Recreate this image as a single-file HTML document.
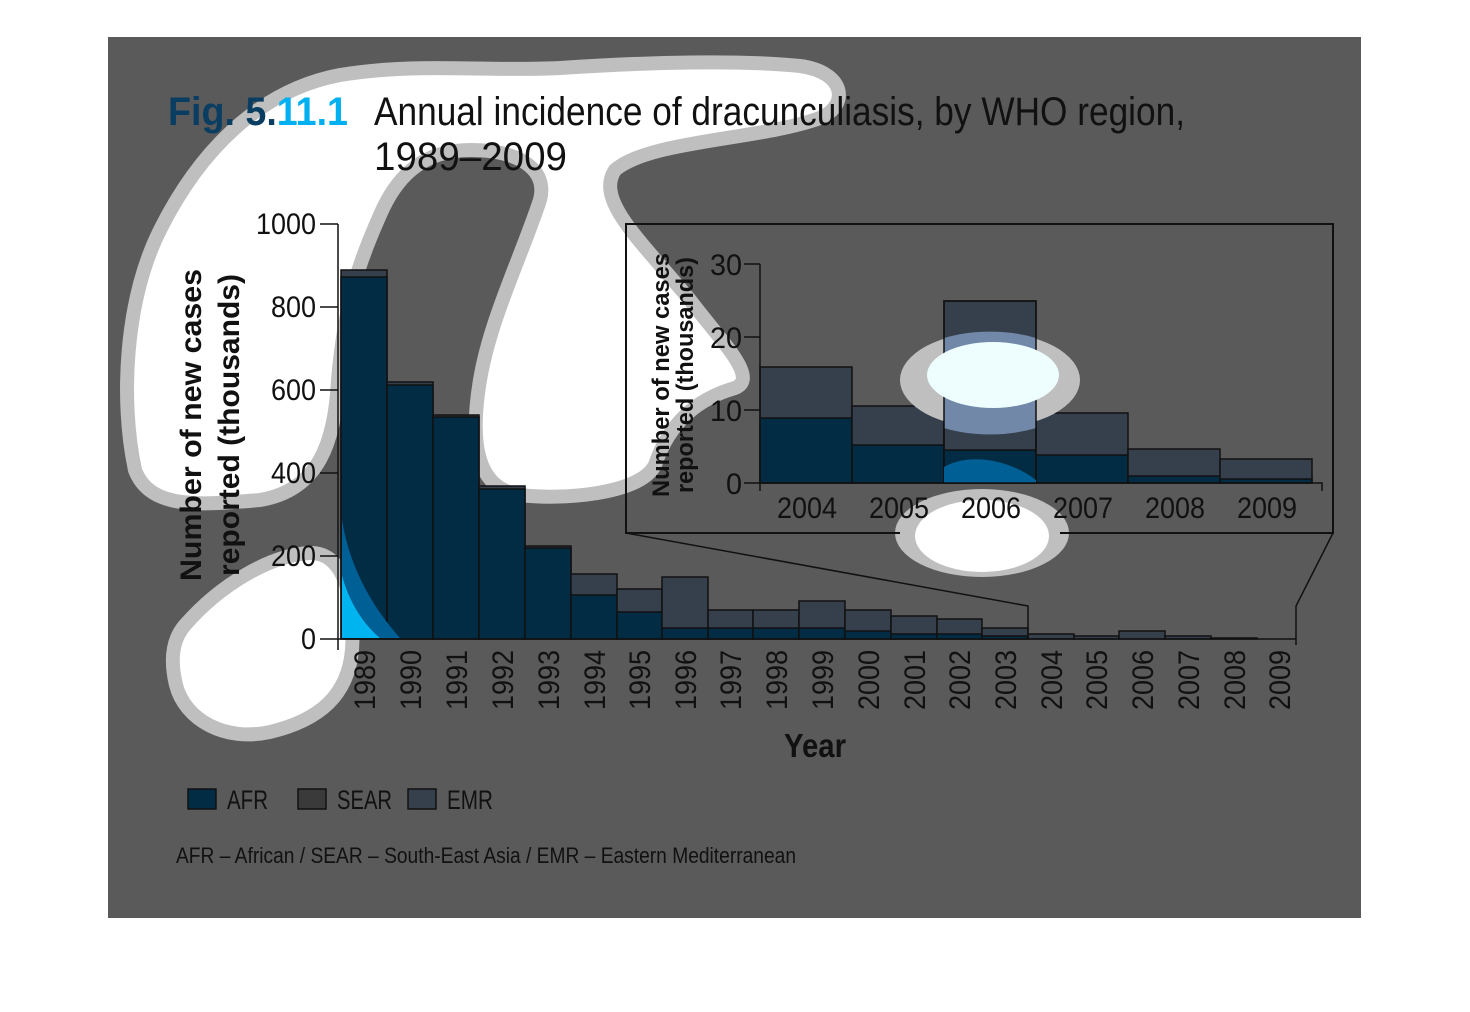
<!DOCTYPE html>
<html><head><meta charset="utf-8"><style>
html,body{margin:0;padding:0;background:#fff;}
svg{display:block;}
text{font-family:"Liberation Sans",sans-serif;fill:#111;}
</style></head><body>
<svg width="1470" height="1012" viewBox="0 0 1470 1012" xmlns="http://www.w3.org/2000/svg">
<rect x="0" y="0" width="1470" height="1012" fill="#fff"/>
<rect x="108" y="37" width="1253" height="881" fill="#5a5a5a"/>

<!-- background blobs -->
<path d="M135 470 C120 400 125 300 160 230 C200 150 260 90 340 75 C420 62 480 72 560 68 C650 62 740 60 800 66 C845 72 850 105 820 118 C760 140 650 140 615 170 C595 200 640 240 690 300 C720 340 760 378 735 388 C700 398 670 420 655 465 C640 495 560 500 520 495 C475 488 470 440 480 380 C490 320 520 260 540 200 C548 170 520 150 470 150 C420 150 395 180 380 215 C360 260 345 300 338 380 C335 440 320 490 260 500 C200 505 150 510 135 470 Z" fill="#fff" stroke="#bfbfbf" stroke-width="14"/>
<path d="M185 625 C220 585 270 555 310 553 C345 552 355 600 352 650 C348 695 320 720 270 732 C225 742 185 720 176 685 C170 660 172 640 185 625 Z" fill="#fff" stroke="#bfbfbf" stroke-width="14"/>

<!-- main bars -->
<g stroke="#111" stroke-width="1.5">
<rect x="341" y="270" width="46" height="369" fill="#36404d"/><rect x="341" y="277" width="46" height="362" fill="#022c44"/>
<rect x="387" y="382" width="46" height="257" fill="#36404d"/><rect x="387" y="385" width="46" height="254" fill="#022c44"/>
<rect x="433" y="415" width="46" height="224" fill="#36404d"/><rect x="433" y="417" width="46" height="222" fill="#022c44"/>
<rect x="479" y="486" width="46" height="153" fill="#36404d"/><rect x="479" y="489" width="46" height="150" fill="#022c44"/>
<rect x="525" y="546" width="46" height="93" fill="#36404d"/><rect x="525" y="548" width="46" height="91" fill="#022c44"/>
<rect x="571" y="574" width="46" height="65" fill="#36404d"/><rect x="571" y="595" width="46" height="44" fill="#022c44"/>
<rect x="617" y="589" width="45" height="50" fill="#36404d"/><rect x="617" y="612" width="45" height="27" fill="#022c44"/>
<rect x="662" y="577" width="46" height="62" fill="#36404d"/><rect x="662" y="628" width="46" height="11" fill="#022c44"/>
<rect x="708" y="610" width="45" height="29" fill="#36404d"/><rect x="708" y="628" width="45" height="11" fill="#022c44"/>
<rect x="753" y="610" width="46" height="29" fill="#36404d"/><rect x="753" y="628" width="46" height="11" fill="#022c44"/>
<rect x="799" y="601" width="46" height="38" fill="#36404d"/><rect x="799" y="628" width="46" height="11" fill="#022c44"/>
<rect x="845" y="610" width="46" height="29" fill="#36404d"/><rect x="845" y="631" width="46" height="8" fill="#022c44"/>
<rect x="891" y="616" width="46" height="23" fill="#36404d"/><rect x="891" y="634" width="46" height="5" fill="#022c44"/>
<rect x="937" y="619" width="45" height="20" fill="#36404d"/><rect x="937" y="634" width="45" height="5" fill="#022c44"/>
<rect x="982" y="628" width="46" height="11" fill="#36404d"/><rect x="982" y="636" width="46" height="3" fill="#022c44"/>
<rect x="1028" y="634" width="46" height="5" fill="#36404d"/>
<rect x="1074" y="636" width="45" height="3" fill="#36404d"/>
<rect x="1119" y="631" width="46" height="8" fill="#36404d"/>
<rect x="1165" y="636" width="46" height="3" fill="#36404d"/>
<rect x="1211" y="638" width="46" height="1" fill="#36404d"/>
</g>
<path d="M342 575 C350 605 365 625 380 638 L342 638 Z" fill="#00b4f0"/>
<path d="M342 520 C350 570 375 610 400 638 L380 638 C365 625 350 605 342 575 Z" fill="#005f94"/>
<!-- main axes -->
<g stroke="#111" stroke-width="1.5" fill="none">
<path d="M338 224 V650"/>
<path d="M320 639 H1296 M320 556 H338 M320 473 H338 M320 390 H338 M320 307 H338 M320 224 H338"/>
<path d="M626 533 L1028 606 V639 M1333 533 L1296 606 V645"/>
</g>
<g font-size="30" text-anchor="end">
<text x="316" y="649" textLength="15" lengthAdjust="spacingAndGlyphs">0</text>
<text x="316" y="566" textLength="45" lengthAdjust="spacingAndGlyphs">200</text>
<text x="316" y="483" textLength="45" lengthAdjust="spacingAndGlyphs">400</text>
<text x="316" y="400" textLength="45" lengthAdjust="spacingAndGlyphs">600</text>
<text x="316" y="317" textLength="45" lengthAdjust="spacingAndGlyphs">800</text>
<text x="316" y="234" textLength="60" lengthAdjust="spacingAndGlyphs">1000</text>
</g>
<g font-size="30" text-anchor="end">
<text transform="translate(375,650) rotate(-90)" textLength="60" lengthAdjust="spacingAndGlyphs">1989</text>
<text transform="translate(421,650) rotate(-90)" textLength="60" lengthAdjust="spacingAndGlyphs">1990</text>
<text transform="translate(467,650) rotate(-90)" textLength="60" lengthAdjust="spacingAndGlyphs">1991</text>
<text transform="translate(513,650) rotate(-90)" textLength="60" lengthAdjust="spacingAndGlyphs">1992</text>
<text transform="translate(559,650) rotate(-90)" textLength="60" lengthAdjust="spacingAndGlyphs">1993</text>
<text transform="translate(605,650) rotate(-90)" textLength="60" lengthAdjust="spacingAndGlyphs">1994</text>
<text transform="translate(650,650) rotate(-90)" textLength="60" lengthAdjust="spacingAndGlyphs">1995</text>
<text transform="translate(696,650) rotate(-90)" textLength="60" lengthAdjust="spacingAndGlyphs">1996</text>
<text transform="translate(741,650) rotate(-90)" textLength="60" lengthAdjust="spacingAndGlyphs">1997</text>
<text transform="translate(787,650) rotate(-90)" textLength="60" lengthAdjust="spacingAndGlyphs">1998</text>
<text transform="translate(833,650) rotate(-90)" textLength="60" lengthAdjust="spacingAndGlyphs">1999</text>
<text transform="translate(879,650) rotate(-90)" textLength="60" lengthAdjust="spacingAndGlyphs">2000</text>
<text transform="translate(925,650) rotate(-90)" textLength="60" lengthAdjust="spacingAndGlyphs">2001</text>
<text transform="translate(970,650) rotate(-90)" textLength="60" lengthAdjust="spacingAndGlyphs">2002</text>
<text transform="translate(1016,650) rotate(-90)" textLength="60" lengthAdjust="spacingAndGlyphs">2003</text>
<text transform="translate(1062,650) rotate(-90)" textLength="60" lengthAdjust="spacingAndGlyphs">2004</text>
<text transform="translate(1107,650) rotate(-90)" textLength="60" lengthAdjust="spacingAndGlyphs">2005</text>
<text transform="translate(1153,650) rotate(-90)" textLength="60" lengthAdjust="spacingAndGlyphs">2006</text>
<text transform="translate(1199,650) rotate(-90)" textLength="60" lengthAdjust="spacingAndGlyphs">2007</text>
<text transform="translate(1245,650) rotate(-90)" textLength="60" lengthAdjust="spacingAndGlyphs">2008</text>
<text transform="translate(1290,650) rotate(-90)" textLength="60" lengthAdjust="spacingAndGlyphs">2009</text>
</g>
<g font-weight="bold" font-size="30" text-anchor="middle">
<text transform="translate(201,425) rotate(-90)" textLength="312" lengthAdjust="spacingAndGlyphs">Number of new cases</text>
<text transform="translate(239,425) rotate(-90)" textLength="302" lengthAdjust="spacingAndGlyphs">reported (thousands)</text>
</g>
<text x="815" y="757" font-size="33" font-weight="bold" text-anchor="middle" textLength="62" lengthAdjust="spacingAndGlyphs">Year</text>

<!-- inset -->
<rect x="626" y="224" width="707" height="309" fill="none" stroke="#111" stroke-width="2"/>
<g stroke="#111" stroke-width="1.5">
<rect x="760" y="367" width="92" height="116" fill="#36404d"/><rect x="760" y="418" width="92" height="65" fill="#022c44"/>
<rect x="852" y="406" width="92" height="77" fill="#36404d"/><rect x="852" y="445" width="92" height="38" fill="#022c44"/>
<rect x="944" y="301" width="92" height="182" fill="#36404d"/><rect x="944" y="450" width="92" height="33" fill="#022c44"/>
<rect x="1036" y="413" width="92" height="70" fill="#36404d"/><rect x="1036" y="455" width="92" height="28" fill="#022c44"/>
<rect x="1128" y="449" width="92" height="34" fill="#36404d"/><rect x="1128" y="476" width="92" height="7" fill="#022c44"/>
<rect x="1220" y="459" width="92" height="24" fill="#36404d"/><rect x="1220" y="479" width="92" height="4" fill="#022c44"/>
</g>
<!-- inset blobs -->
<ellipse cx="990" cy="380" rx="90" ry="48" fill="#bfbfbf"/>
<path d="M944 338 A92 48 0 0 1 1036 338 V428 A92 48 0 0 1 944 428 Z" fill="#7288a8"/>
<rect x="944" y="301" width="92" height="182" fill="none" stroke="#111" stroke-width="1.5"/>
<ellipse cx="993" cy="375" rx="66" ry="33" fill="#eefeff"/>
<ellipse cx="982" cy="533" rx="87" ry="44" fill="#bfbfbf"/>
<path d="M944 467 C970 452 1010 460 1036 480 V483 H944 Z" fill="#005f94"/>
<ellipse cx="982" cy="536" rx="67" ry="36" fill="#fff"/>
<path d="M626 533 H900 M1060 533 H1333" stroke="#111" stroke-width="2"/>

<g stroke="#111" stroke-width="1.5" fill="none">
<path d="M760 264 V491 M744 483 H1322 V491 M744 410 H760 M744 337 H760 M744 264 H760"/>
</g>
<g font-size="30" text-anchor="end">
<text x="742" y="494" textLength="16" lengthAdjust="spacingAndGlyphs">0</text>
<text x="742" y="421" textLength="32" lengthAdjust="spacingAndGlyphs">10</text>
<text x="742" y="348" textLength="32" lengthAdjust="spacingAndGlyphs">20</text>
<text x="742" y="275" textLength="32" lengthAdjust="spacingAndGlyphs">30</text>
</g>
<g font-size="30" text-anchor="middle">
<text x="807" y="518" textLength="60" lengthAdjust="spacingAndGlyphs">2004</text>
<text x="899" y="518" textLength="60" lengthAdjust="spacingAndGlyphs">2005</text>
<text x="991" y="518" textLength="60" lengthAdjust="spacingAndGlyphs">2006</text>
<text x="1083" y="518" textLength="60" lengthAdjust="spacingAndGlyphs">2007</text>
<text x="1175" y="518" textLength="60" lengthAdjust="spacingAndGlyphs">2008</text>
<text x="1267" y="518" textLength="60" lengthAdjust="spacingAndGlyphs">2009</text>
</g>
<g font-weight="bold" font-size="24" text-anchor="middle">
<text transform="translate(669,375) rotate(-90)" textLength="244" lengthAdjust="spacingAndGlyphs">Number of new cases</text>
<text transform="translate(693,375) rotate(-90)" textLength="236" lengthAdjust="spacingAndGlyphs">reported (thousands)</text>
</g>

<!-- title -->
<text x="168" y="125" font-size="40" font-weight="bold" textLength="180" lengthAdjust="spacingAndGlyphs" style="fill:#0a3d62">Fig. 5.<tspan style="fill:#00b0f0">11.1</tspan></text>
<text x="374" y="125" font-size="40" textLength="811" lengthAdjust="spacingAndGlyphs">Annual incidence of dracunculiasis, by WHO region,</text>
<text x="374" y="170" font-size="40" textLength="193" lengthAdjust="spacingAndGlyphs">1989–2009</text>

<!-- legend -->
<g stroke="#111" stroke-width="1.5">
<rect x="188" y="789" width="28" height="20" fill="#022c44"/>
<rect x="298" y="789" width="28" height="20" fill="#3a3a3a"/>
<rect x="408" y="789" width="28" height="20" fill="#36404d"/>
</g>
<g font-size="27">
<text x="227" y="809" textLength="41" lengthAdjust="spacingAndGlyphs">AFR</text>
<text x="337" y="809" textLength="55" lengthAdjust="spacingAndGlyphs">SEAR</text>
<text x="447" y="809" textLength="46" lengthAdjust="spacingAndGlyphs">EMR</text>
</g>
<text x="176" y="863" font-size="22" textLength="620" lengthAdjust="spacingAndGlyphs">AFR – African / SEAR – South-East Asia / EMR – Eastern Mediterranean</text>
</svg>
</body></html>
